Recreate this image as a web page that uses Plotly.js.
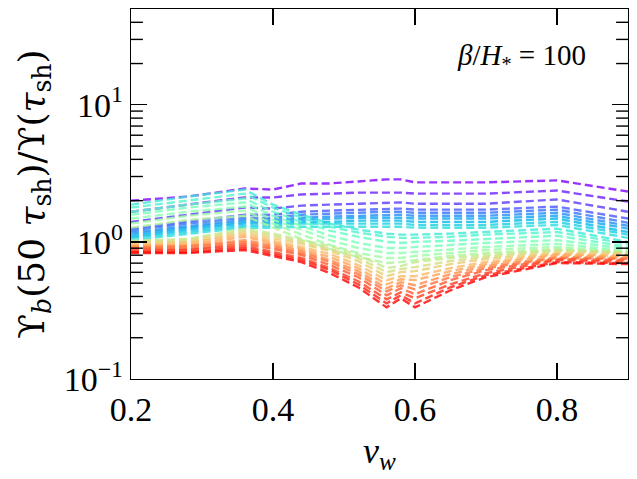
<!DOCTYPE html>
<html>
<head>
<meta charset="utf-8">
<script src="https://cdn.plot.ly/plotly-3.0.1.min.js"></script>
<style>html,body{margin:0;padding:0;background:#fff;}#plot{width:637px;height:479px;}</style>
</head>
<body>
<div id="plot"></div>
<script>
// wall velocities
const vw = [0.20, 0.28, 0.36, 0.40, 0.44, 0.48, 0.52, 0.56, 0.58, 0.60, 0.65, 0.70, 0.80, 0.90];

// ratio curves, one per colour index (purple -> red)
const ratios = [
  [2.00, 2.14, 2.45, 2.41, 2.67, 2.67, 2.76, 2.86, 2.86, 2.72, 2.72, 2.72, 2.81, 2.33],
  [1.66, 1.87, 2.11, 2.11, 2.22, 2.25, 2.29, 2.29, 2.29, 2.25, 2.25, 2.25, 2.37, 1.97],
  [1.40, 1.58, 1.78, 1.75, 1.84, 1.87, 1.90, 1.94, 1.94, 1.90, 1.90, 1.90, 2.04, 1.66],
  [1.25, 1.40, 1.58, 1.58, 1.66, 1.69, 1.72, 1.75, 1.75, 1.72, 1.72, 1.72, 1.81, 1.48],
  [1.21, 1.36, 1.50, 1.50, 1.58, 1.61, 1.63, 1.66, 1.66, 1.63, 1.63, 1.63, 1.72, 1.38],
  [1.17, 1.31, 1.45, 1.45, 1.50, 1.53, 1.55, 1.58, 1.58, 1.55, 1.55, 1.55, 1.63, 1.31],
  [1.13, 1.27, 1.40, 1.40, 1.45, 1.48, 1.50, 1.50, 1.50, 1.48, 1.48, 1.48, 1.55, 1.25],
  [1.09, 1.23, 1.36, 1.36, 1.40, 1.40, 1.43, 1.43, 1.43, 1.40, 1.40, 1.40, 1.48, 1.18],
  [1.07, 1.18, 1.31, 1.31, 1.36, 1.36, 1.36, 1.36, 1.36, 1.33, 1.33, 1.33, 1.40, 1.13],
  [1.03, 1.15, 1.27, 1.27, 1.29, 1.29, 1.29, 1.29, 1.29, 1.27, 1.27, 1.27, 1.33, 1.07],
  [1.87, 2.14, 2.41, 1.87, 1.58, 1.36, 1.23, 1.15, 1.13, 1.13, 1.15, 1.18, 1.25, 1.00],
  [1.78, 2.00, 2.25, 1.78, 1.50, 1.29, 1.17, 1.09, 1.07, 1.07, 1.09, 1.13, 1.18, 0.967],
  [1.66, 1.87, 2.07, 1.66, 1.40, 1.21, 1.09, 1.00, 0.983, 1.00, 1.02, 1.05, 1.11, 0.919],
  [1.58, 1.78, 1.94, 1.55, 1.31, 1.11, 0.983, 0.903, 0.903, 0.919, 0.950, 0.983, 1.03, 0.888],
  [1.48, 1.66, 1.81, 1.45, 1.23, 1.03, 0.903, 0.830, 0.830, 0.844, 0.888, 0.919, 0.967, 0.859],
  [1.36, 1.55, 1.69, 1.36, 1.13, 0.950, 0.830, 0.763, 0.763, 0.789, 0.830, 0.873, 0.919, 0.844],
  [1.27, 1.45, 1.55, 1.27, 1.05, 0.888, 0.776, 0.701, 0.713, 0.737, 0.789, 0.830, 0.888, 0.830],
  [1.02, 1.05, 1.25, 1.15, 1.03, 0.935, 0.803, 0.644, 0.666, 0.713, 0.763, 0.803, 0.873, 0.844],
  [1.00, 1.03, 1.21, 1.11, 1.00, 0.888, 0.763, 0.602, 0.633, 0.655, 0.725, 0.776, 0.859, 0.830],
  [0.983, 1.00, 1.17, 1.07, 0.967, 0.859, 0.725, 0.562, 0.602, 0.612, 0.689, 0.750, 0.830, 0.816],
  [0.950, 0.983, 1.13, 1.02, 0.919, 0.816, 0.678, 0.526, 0.562, 0.562, 0.644, 0.713, 0.816, 0.789],
  [0.935, 0.950, 1.09, 0.983, 0.888, 0.776, 0.644, 0.491, 0.534, 0.526, 0.612, 0.689, 0.803, 0.776],
  [0.919, 0.935, 1.03, 0.950, 0.859, 0.737, 0.612, 0.459, 0.508, 0.483, 0.582, 0.666, 0.776, 0.763],
  [0.903, 0.919, 1.00, 0.919, 0.830, 0.713, 0.582, 0.436, 0.483, 0.451, 0.553, 0.644, 0.763, 0.750],
  [0.888, 0.888, 0.967, 0.888, 0.803, 0.678, 0.553, 0.408, 0.459, 0.415, 0.526, 0.623, 0.750, 0.737],
  [0.859, 0.873, 0.935, 0.844, 0.763, 0.644, 0.517, 0.381, 0.429, 0.388, 0.491, 0.592, 0.737, 0.713],
  [0.844, 0.844, 0.903, 0.816, 0.737, 0.623, 0.491, 0.356, 0.408, 0.356, 0.467, 0.572, 0.713, 0.701],
  [0.830, 0.830, 0.873, 0.789, 0.713, 0.592, 0.467, 0.333, 0.388, 0.333, 0.444, 0.553, 0.701, 0.689]
];

const yTickVals = [0.1, 1, 10];
const yTickText = ['10<sup>−1</sup>', '10<sup>0</sup>', '10<sup>1</sup>'];
const yMinorVals = [0.2, 0.3, 0.4, 0.5, 0.6, 0.7, 0.8, 0.9, 2, 3, 4, 5, 6, 7, 8, 9, 20, 30, 40];
const xRange = [0.2, 0.9];
const xTickVals = [0.2, 0.4, 0.6, 0.8];
const xTickText = ['0.2', '0.4', '0.6', '0.8'];
const annotationText = '<i>β</i>/<i>H</i><sub>*</sub> = 100';

function rainbow(t) {
  const c = v => Math.round(255 * Math.max(0, Math.min(1, v)));
  const r = Math.abs(2 * t - 0.5);
  const g = Math.sin(Math.PI * t);
  const b = Math.cos(Math.PI * t / 2);
  return 'rgba(' + c(r) + ',' + c(g) + ',' + c(b) + ',0.8)';
}

const n = ratios.length;
const traces = ratios.map((ys, k) => ({
  x: vw, y: ys, type: 'scatter', mode: 'lines',
  line: {color: rainbow(k / (n - 1)), width: 2.4, dash: '8px,4px'},
  hoverinfo: 'skip', showlegend: false
}));

// minor y ticks: short horizontal line markers centred on each frame edge; the outer half is clipped
xRange.forEach(edge => {
  traces.push({
    x: yMinorVals.map(() => edge), y: yMinorVals, type: 'scatter', mode: 'markers',
    cliponaxis: true,
    marker: {symbol: 'line-ew', size: 17, color: '#000', opacity: 1, line: {width: 1.4, color: '#000'}},
    hoverinfo: 'skip', showlegend: false
  });
});

const font = 'Liberation Serif, DejaVu Serif, serif';

const layout = {
  width: 637, height: 479,
  margin: {l: 131, r: 9, t: 9, b: 100},
  paper_bgcolor: '#fff', plot_bgcolor: '#fff',
  font: {family: font, color: '#000', size: 34},
  showlegend: false,
  xaxis: {
    range: xRange, tickmode: 'array', tickvals: xTickVals, ticktext: xTickText,
    ticks: 'inside', ticklen: 16, tickwidth: 1.2, tickcolor: '#000',
    showline: true, linecolor: '#000', linewidth: 1.2, mirror: 'allticks',
    showgrid: false, zeroline: false,
    tickfont: {size: 34, family: font},
    title: {text: '<i>v</i><sub><i>w</i></sub>', font: {size: 36, family: font}, standoff: 10}
  },
  yaxis: {
    type: 'log', range: [-1, Math.log10(50)], tickmode: 'array', tickvals: yTickVals, ticktext: yTickText,
    ticks: 'inside', ticklen: 16, tickwidth: 1.2, tickcolor: '#000',
    showline: true, linecolor: '#000', linewidth: 1.2, mirror: 'allticks',
    showgrid: false, zeroline: false,
    tickfont: {size: 34, family: font},
    title: {text: 'ϒ<sub><i>b</i></sub>(50 <i>τ</i><sub>sh</sub>)/ϒ(<i>τ</i><sub>sh</sub>)', font: {size: 36, family: 'DejaVu Serif, serif'}, standoff: 8}
  },
  annotations: [{
    xref: 'paper', yref: 'paper', x: 0.92, y: 0.87, xanchor: 'right', yanchor: 'middle',
    text: annotationText, showarrow: false, font: {size: 29, family: font}
  }]
};

Plotly.newPlot('plot', traces, layout, {staticPlot: true, displayModeBar: false});
</script>
</body>
</html>
